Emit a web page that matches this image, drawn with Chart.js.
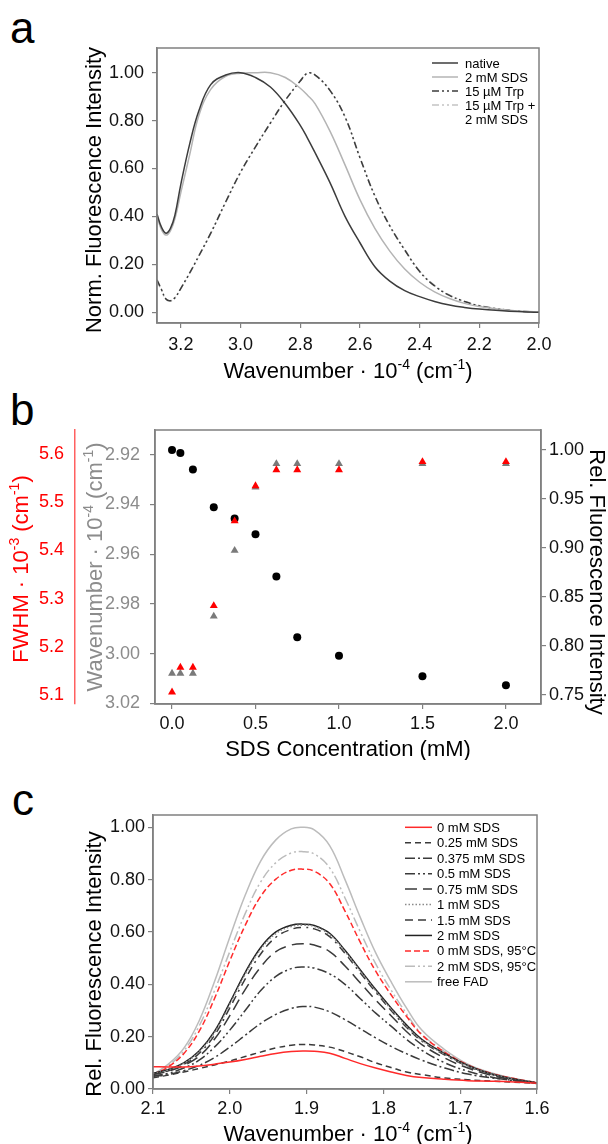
<!DOCTYPE html>
<html>
<head>
<meta charset="utf-8">
<script src="https://cdn.jsdelivr.net/npm/chart.js@4.4.0/dist/chart.umd.min.js"></script>
<style>
  body { margin: 0; background: #fff; width: 608px; height: 1144px; position: relative; overflow: hidden; font-family: "Liberation Sans", Arial, sans-serif; }
  canvas { position: absolute; left: 0; }
  .tag { position: absolute; font-size: 44px; line-height: 1; color: #000; }
</style>
</head>
<body>
<div class="tag" style="left:10px;top:6px">a</div>
<div class="tag" style="left:10px;top:388px">b</div>
<div class="tag" style="left:12px;top:778px">c</div>
<canvas id="chartA" width="608" height="388" style="top:0px"></canvas>
<canvas id="chartB" width="608" height="372" style="top:388px"></canvas>
<canvas id="chartC" width="608" height="384" style="top:760px"></canvas>
<script>
// ---- panel a: normalised tryptophan emission ----
const waveA = [3.28, 3.265, 3.25, 3.235, 3.22, 3.20, 3.17, 3.14, 3.10, 3.05, 3.00, 2.95, 2.90, 2.85, 2.80, 2.775, 2.75, 2.70, 2.65, 2.60, 2.55, 2.50, 2.45, 2.40, 2.35, 2.30, 2.25, 2.20, 2.10, 2.00];
const nativeA = [0.41, 0.355, 0.33, 0.35, 0.405, 0.535, 0.705, 0.84, 0.95, 0.99, 1.00, 0.98, 0.94, 0.87, 0.78, 0.725, 0.665, 0.54, 0.40, 0.29, 0.19, 0.13, 0.09, 0.065, 0.045, 0.03, 0.02, 0.013, 0.004, 0.0];
const sdsA = [0.40, 0.345, 0.322, 0.34, 0.39, 0.50, 0.66, 0.82, 0.93, 0.985, 0.998, 1.0, 1.0, 0.98, 0.935, 0.905, 0.87, 0.755, 0.615, 0.47, 0.35, 0.255, 0.18, 0.125, 0.085, 0.057, 0.037, 0.024, 0.008, 0.0];
const trpA = [0.135, 0.095, 0.055, 0.048, 0.06, 0.10, 0.165, 0.235, 0.33, 0.46, 0.585, 0.69, 0.79, 0.885, 0.965, 0.998, 0.99, 0.925, 0.815, 0.645, 0.485, 0.36, 0.26, 0.17, 0.11, 0.07, 0.045, 0.027, 0.008, 0.0];
const trpSdsA = [0.13, 0.092, 0.054, 0.047, 0.06, 0.10, 0.163, 0.233, 0.328, 0.458, 0.583, 0.69, 0.79, 0.885, 0.966, 0.998, 0.99, 0.926, 0.816, 0.647, 0.487, 0.362, 0.262, 0.172, 0.112, 0.072, 0.046, 0.028, 0.008, 0.0];

// ---- panel b: SDS titration ----
const sdsConc = [0, 0.05, 0.125, 0.25, 0.375, 0.5, 0.625, 0.75, 1.0, 1.5, 2.0];
const relFluo = [1.00, 0.997, 0.980, 0.9415, 0.930, 0.914, 0.871, 0.809, 0.790, 0.769, 0.760];
const peakWave = [3.008, 3.008, 3.008, 2.985, 2.9585, 2.933, 2.9236, 2.9236, 2.9236, 2.9236, 2.9236];
const fwhm = [5.1055, 5.157, 5.157, 5.285, 5.461, 5.534, 5.567, 5.567, 5.567, 5.584, 5.584];

// ---- panel c: FAD emission ----
const waveC = [2.10, 2.08, 2.06, 2.04, 2.02, 2.00, 1.98, 1.96, 1.94, 1.92, 1.905, 1.89, 1.87, 1.85, 1.83, 1.81, 1.79, 1.77, 1.75, 1.72, 1.69, 1.66, 1.63, 1.60];
const sds0 = [0.085, 0.084, 0.084, 0.088, 0.095, 0.103, 0.113, 0.125, 0.136, 0.143, 0.145, 0.144, 0.137, 0.117, 0.097, 0.08, 0.065, 0.052, 0.044, 0.037, 0.032, 0.03, 0.027, 0.022];
const sds025 = [0.043, 0.053, 0.065, 0.078, 0.092, 0.107, 0.124, 0.141, 0.157, 0.167, 0.17, 0.168, 0.16, 0.143, 0.123, 0.10, 0.082, 0.065, 0.055, 0.042, 0.035, 0.03, 0.026, 0.021];
const sds0375 = [0.048, 0.055, 0.07, 0.09, 0.12, 0.16, 0.205, 0.25, 0.285, 0.308, 0.315, 0.313, 0.295, 0.265, 0.23, 0.195, 0.163, 0.135, 0.11, 0.08, 0.057, 0.043, 0.032, 0.023];
const sds05 = [0.05, 0.06, 0.08, 0.11, 0.16, 0.225, 0.30, 0.375, 0.43, 0.46, 0.466, 0.462, 0.44, 0.40, 0.345, 0.29, 0.24, 0.19, 0.148, 0.10, 0.068, 0.046, 0.032, 0.022];
const sds075 = [0.055, 0.068, 0.09, 0.125, 0.19, 0.28, 0.38, 0.465, 0.525, 0.55, 0.555, 0.55, 0.525, 0.47, 0.405, 0.34, 0.28, 0.22, 0.17, 0.118, 0.08, 0.053, 0.035, 0.022];
const sds1 = [0.058, 0.073, 0.098, 0.142, 0.215, 0.323, 0.438, 0.533, 0.594, 0.621, 0.626, 0.621, 0.59, 0.525, 0.45, 0.375, 0.305, 0.24, 0.186, 0.132, 0.088, 0.057, 0.037, 0.023];
const sds15 = [0.056, 0.07, 0.094, 0.136, 0.205, 0.31, 0.42, 0.515, 0.58, 0.61, 0.617, 0.612, 0.582, 0.518, 0.443, 0.37, 0.30, 0.236, 0.183, 0.13, 0.087, 0.056, 0.036, 0.022];
const sds2 = [0.06, 0.075, 0.10, 0.145, 0.22, 0.33, 0.445, 0.54, 0.60, 0.626, 0.63, 0.625, 0.595, 0.53, 0.455, 0.38, 0.31, 0.245, 0.19, 0.135, 0.09, 0.058, 0.038, 0.023];
const sds0Hot = [0.055, 0.085, 0.135, 0.22, 0.345, 0.49, 0.625, 0.735, 0.802, 0.836, 0.84, 0.832, 0.785, 0.68, 0.56, 0.45, 0.36, 0.278, 0.207, 0.14, 0.092, 0.06, 0.04, 0.024];
const sds2Hot = [0.055, 0.09, 0.145, 0.24, 0.375, 0.525, 0.67, 0.79, 0.865, 0.902, 0.907, 0.898, 0.845, 0.73, 0.60, 0.478, 0.378, 0.288, 0.21, 0.142, 0.092, 0.06, 0.04, 0.024];
const freeFad = [0.055, 0.095, 0.155, 0.26, 0.41, 0.58, 0.74, 0.87, 0.952, 0.994, 1.0, 0.99, 0.93, 0.80, 0.655, 0.52, 0.41, 0.31, 0.225, 0.15, 0.095, 0.062, 0.04, 0.024];

const family = '"Liberation Sans", Arial, sans-serif';
const waveTitle = [['Wavenumber · 10'], ['-4', 1], [' (cm'], ['-1', 1], [')']];

function pts(xs, ys) {
	return xs.map((x, i) => ({ x: x, y: ys[i] }));
}

// text with superscripts, centred on x,y
function richText(ctx, parts, x, y, rot, size, color) {
	ctx.save();
	ctx.translate(x, y);
	ctx.rotate(rot);
	ctx.fillStyle = color;
	ctx.textBaseline = 'alphabetic';
	const supSize = Math.round(size * 0.62);
	let w = 0;
	parts.forEach(p => {
		ctx.font = (p[1] ? supSize : size) + 'px ' + family;
		w += ctx.measureText(p[0]).width;
	});
	let cx = -w / 2;
	const base = size * 0.36;
	parts.forEach(p => {
		ctx.font = (p[1] ? supSize : size) + 'px ' + family;
		ctx.fillText(p[0], cx, p[1] ? base - size * 0.42 : base);
		cx += ctx.measureText(p[0]).width;
	});
	ctx.restore();
}

function titles(items) {
	return {
		id: 'titles',
		afterDraw(chart) {
			items.forEach(t => richText(chart.ctx, t.parts, t.x, t.y, t.rot || 0, t.size || 22, t.color || '#000'));
		}
	};
}

const frame = {
	id: 'frame',
	afterDatasetsDraw(chart) {
		const a = chart.chartArea;
		const ctx = chart.ctx;
		ctx.save();
		ctx.strokeStyle = '#808080';
		ctx.lineWidth = 1.5;
		ctx.strokeRect(a.left, a.top, a.right - a.left, a.bottom - a.top);
		ctx.restore();
	}
};

function legendBox(cfg) {
	return {
		id: 'legendBox',
		afterDraw(chart) {
			const ctx = chart.ctx;
			ctx.save();
			ctx.font = cfg.size + 'px ' + family;
			ctx.textBaseline = 'middle';
			let row = 0;
			chart.data.datasets.forEach(ds => {
				const y = cfg.y + row * cfg.dy;
				ctx.strokeStyle = ds.borderColor;
				ctx.lineWidth = ds.borderWidth;
				ctx.setLineDash(ds.borderDash || []);
				ctx.beginPath();
				ctx.moveTo(cfg.x0, y);
				ctx.lineTo(cfg.x1, y);
				ctx.stroke();
				ctx.setLineDash([]);
				ctx.fillStyle = '#000';
				const lines = ds.label.split('\n');
				lines.forEach((line, k) => ctx.fillText(line, cfg.xt, y + k * cfg.dy + 1));
				row += lines.length;
			});
			ctx.restore();
		}
	};
}

function axis(extra) {
	const base = {
		type: 'linear',
		grid: { display: true, drawOnChartArea: false, drawTicks: true, tickLength: 5, color: '#808080', lineWidth: 1.2 },
		border: { display: true, color: '#808080', width: 1.5 },
		ticks: { font: { size: 18, family: family }, color: '#111', padding: 6, includeBounds: false }
	};
	for (const k in extra) {
		if (typeof extra[k] === 'object' && base[k]) {
			base[k] = Object.assign({}, base[k], extra[k]);
		} else {
			base[k] = extra[k];
		}
	}
	return base;
}

function line(label, xs, ys, color, dash, width) {
	return {
		label: label,
		data: pts(xs, ys),
		borderColor: color,
		borderWidth: width || 1.5,
		borderDash: dash || [],
		pointRadius: 0,
		fill: false,
		tension: 0.4
	};
}

// ---------- chart a ----------
new Chart(document.getElementById('chartA'), {
	type: 'line',
	data: {
		datasets: [
			line('native', waveA, nativeA, '#3c3c3c'),
			line('2 mM SDS', waveA, sdsA, '#b4b4b4'),
			line('15 µM Trp', waveA, trpA, '#3c3c3c', [7, 3, 2, 3, 2, 3]),
			line('15 µM Trp +\n2 mM SDS', waveA, trpSdsA, '#c4c4c4', [7, 3, 2, 3, 2, 3])
		]
	},
	options: {
		responsive: false,
		animation: false,
		layout: { padding: { top: 48, right: 69, left: 0, bottom: 0 } },
		plugins: { legend: { display: false }, tooltip: { enabled: false } },
		scales: {
			x: axis({
				min: 2.0, max: 3.28, reverse: true,
				ticks: { stepSize: 0.2, padding: 6, callback: v => v.toFixed(1) },
				afterFit: s => { s.height = 65; }
			}),
			y: axis({
				min: -0.045, max: 1.103,
				ticks: { stepSize: 0.2, padding: 8, callback: v => v.toFixed(2) },
				afterFit: s => { s.width = 157; }
			})
		}
	},
	plugins: [frame, legendBox({ x0: 432, x1: 458, xt: 465, y: 63, dy: 14, size: 13 }),
		titles([
			{ parts: [['Norm. Fluorescence Intensity']], x: 93.5, y: 190, rot: -Math.PI / 2 },
			{ parts: waveTitle, x: 348, y: 370 }
		])]
});

// ---------- chart b ----------
new Chart(document.getElementById('chartB'), {
	type: 'scatter',
	data: {
		datasets: [
			{ label: 'FWHM', data: pts(sdsConc, fwhm), yAxisID: 'yRed', pointStyle: 'triangle', pointRadius: 4.6, backgroundColor: '#ff0000', borderColor: '#ff0000', borderWidth: 0 },
			{ label: 'Wavenumber', data: pts(sdsConc, peakWave), yAxisID: 'yGray', pointStyle: 'triangle', pointRadius: 4.6, backgroundColor: '#7a7a7a', borderColor: '#7a7a7a', borderWidth: 0 },
			{ label: 'Rel. Fluorescence', data: pts(sdsConc, relFluo), yAxisID: 'yRight', pointStyle: 'circle', pointRadius: 4, backgroundColor: '#000', borderColor: '#000', borderWidth: 0 }
		]
	},
	options: {
		responsive: false,
		animation: false,
		layout: { padding: { top: 42, right: 0, left: 0, bottom: 0 } },
		plugins: { legend: { display: false }, tooltip: { enabled: false } },
		scales: {
			x: axis({
				min: -0.102, max: 2.21,
				ticks: { stepSize: 0.5, padding: 4, callback: v => v.toFixed(1) },
				afterFit: s => { s.height = 56; }
			}),
			yGray: axis({
				position: 'left', weight: 0,
				min: 2.910, max: 3.0203, reverse: true,
				ticks: { stepSize: 0.02, padding: 10, color: '#8c8c8c', callback: v => v.toFixed(2) },
				afterFit: s => { s.width = 80; }
			}),
			yRed: axis({
				position: 'left', weight: 1,
				min: 5.081, max: 5.65,
				grid: { display: false, drawTicks: false },
				border: { display: true, color: '#ff6060', width: 1.5 },
				ticks: { stepSize: 0.1, padding: 11, color: '#ff0000', callback: v => v.toFixed(1) },
				afterFit: s => { s.width = 75; }
			}),
			yRight: axis({
				position: 'right',
				min: 0.7408, max: 1.0204,
				ticks: { stepSize: 0.05, padding: 3, callback: v => v.toFixed(2) },
				afterFit: s => { s.width = 67; }
			})
		}
	},
	plugins: [frame, titles([
		{ parts: [['SDS Concentration (mM)']], x: 348, y: 360 },
		{ parts: [['FWHM · 10'], ['-3', 1], [' (cm'], ['-1', 1], [')']], x: 20.5, y: 181, rot: -Math.PI / 2, color: '#ff0000' },
		{ parts: waveTitle, x: 94.5, y: 179, rot: -Math.PI / 2, color: '#8c8c8c' },
		{ parts: [['Rel. Fluorescence Intensity']], x: 598, y: 194, rot: Math.PI / 2 }
	])]
});

// ---------- chart c ----------
new Chart(document.getElementById('chartC'), {
	type: 'line',
	data: {
		datasets: [
			line('0 mM SDS', waveC, sds0, '#ff2a2a'),
			line('0.25 mM SDS', waveC, sds025, '#3a3a3a', [6, 4]),
			line('0.375 mM SDS', waveC, sds0375, '#3a3a3a', [10, 3, 2, 3]),
			line('0.5 mM SDS', waveC, sds05, '#3a3a3a', [10, 3, 2, 3, 2, 3]),
			line('0.75 mM SDS', waveC, sds075, '#3a3a3a', [12, 6]),
			line('1 mM SDS', waveC, sds1, '#8a8a8a', [1.5, 2]),
			line('1.5 mM SDS', waveC, sds15, '#3a3a3a', [8, 5, 8, 5, 2, 5]),
			line('2 mM SDS', waveC, sds2, '#222222'),
			line('0 mM SDS, 95°C', waveC, sds0Hot, '#ff2a2a', [6, 3]),
			line('2 mM SDS, 95°C', waveC, sds2Hot, '#bcbcbc', [10, 3, 2, 3, 2, 3]),
			line('free FAD', waveC, freeFad, '#bcbcbc')
		]
	},
	options: {
		responsive: false,
		animation: false,
		layout: { padding: { top: 55, right: 71, left: 0, bottom: 0 } },
		plugins: { legend: { display: false }, tooltip: { enabled: false } },
		scales: {
			x: axis({
				min: 1.6, max: 2.1, reverse: true,
				ticks: { stepSize: 0.1, padding: 4, callback: v => v.toFixed(1) },
				afterFit: s => { s.height = 55; }
			}),
			y: axis({
				min: 0, max: 1.047,
				ticks: { stepSize: 0.2, padding: 3, callback: v => v.toFixed(2) },
				afterFit: s => { s.width = 153; }
			})
		}
	},
	plugins: [frame, legendBox({ x0: 405, x1: 432, xt: 437, y: 67.3, dy: 15.45, size: 13 }),
		titles([
			{ parts: [['Rel. Fluorescence Intensity']], x: 93.5, y: 204, rot: -Math.PI / 2 },
			{ parts: waveTitle, x: 348, y: 373 }
		])]
});
</script>
</body>
</html>
